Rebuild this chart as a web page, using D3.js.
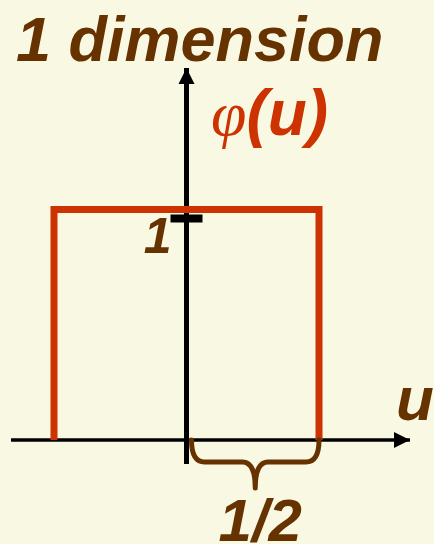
<!DOCTYPE html>
<html>
<head>
<meta charset="utf-8">
<script src="https://cdn.jsdelivr.net/npm/d3@7"></script>
<style>
  html, body { margin: 0; padding: 0; background: #f9f9e3; }
  svg { display: block; }
  text { font-family: "Liberation Sans", Arial, sans-serif; font-weight: bold; font-style: italic; }
</style>
</head>
<body>
<svg width="434" height="544"></svg>
<script>
// box function phi(u): 1 on [-1/2, 1/2], 0 elsewhere
const boxU = [-0.5, -0.5, 0.5, 0.5];
const boxPhi = [0, 1, 1, 0];
const yTicks = [1];
const yTickLabels = ["1"];
const braceSpan = [0, 0.5];
const braceLabel = "1/2";
const title = "1 dimension";

const brown = "#663300", red = "#cc3300";

const svg = d3.select("svg");

const x = d3.scaleLinear().domain([-0.5, 0.5]).range([54, 319]);
const y = d3.scaleLinear().domain([0, 1]).range([440, 209.5]);

const defs = svg.append("defs");
defs.append("marker")
    .attr("id", "arrow")
    .attr("viewBox", "0 0 10 10")
    .attr("refX", 10).attr("refY", 5)
    .attr("markerUnits", "userSpaceOnUse")
    .attr("markerWidth", 16).attr("markerHeight", 17)
    .attr("orient", "auto")
  .append("path")
    .attr("d", "M0,0L10,5L0,10Z")
    .attr("fill", "#000");

// title
svg.append("text")
    .attr("x", 16).attr("y", 61)
    .attr("fill", brown)
    .style("font-size", "63px")
    .text(title);

// x axis
svg.append("line")
    .attr("x1", 11).attr("x2", 410)
    .attr("y1", y(0)).attr("y2", y(0))
    .attr("stroke", "#000").attr("stroke-width", 3.5)
    .attr("marker-end", "url(#arrow)");

// y axis
svg.append("line")
    .attr("x1", x(0)).attr("x2", x(0))
    .attr("y1", 464).attr("y2", 68)
    .attr("stroke", "#000").attr("stroke-width", 5)
    .attr("marker-end", "url(#arrow)");

// box function
const pts = boxU.map((u, i) => [x(u), y(boxPhi[i])]);
svg.append("path")
    .attr("d", d3.line()(pts))
    .attr("fill", "none")
    .attr("stroke", red)
    .attr("stroke-width", 7)
    .attr("stroke-linejoin", "miter");

// tick at 1
svg.selectAll(".ytick")
    .data(yTicks)
    .join("line")
    .attr("class", "ytick")
    .attr("x1", x(0) - 16).attr("x2", x(0) + 16)
    .attr("y1", d => y(d) + 9).attr("y2", d => y(d) + 9)
    .attr("stroke", "#000").attr("stroke-width", 8);

svg.selectAll(".ylabel")
    .data(yTicks)
    .join("text")
    .attr("class", "ylabel")
    .attr("x", x(0) - 15).attr("y", d => y(d) + 43)
    .attr("text-anchor", "end")
    .attr("fill", brown)
    .style("font-size", "50px")
    .text((d, i) => yTickLabels[i]);

// phi(u) label
const phi = svg.append("text")
    .attr("x", 211).attr("y", 135)
    .attr("fill", red)
    .style("font-size", "64px");
phi.append("tspan")
    .style("font-family", "'Liberation Serif', 'Times New Roman', serif")
    .style("font-weight", "normal")
    .text("φ");
phi.append("tspan").text("(u)");

// u label
svg.append("text")
    .attr("x", 396).attr("y", 420)
    .attr("fill", brown)
    .style("font-size", "62px")
    .text("u");

// brace under [0, 1/2]
const bx0 = x(braceSpan[0]) + 5, bx1 = x(braceSpan[1]);
const by0 = y(0), by1 = y(0) + 22, tipY = y(0) + 48;
const mid = (bx0 + bx1) / 2;
const r = 13;
const p = d3.path();
p.moveTo(bx0, by0);
p.quadraticCurveTo(bx0, by1, bx0 + r, by1);
p.lineTo(mid - r, by1);
p.quadraticCurveTo(mid, by1, mid, tipY);
p.quadraticCurveTo(mid, by1, mid + r, by1);
p.lineTo(bx1 - r, by1);
p.quadraticCurveTo(bx1, by1, bx1, by0);
svg.append("path")
    .attr("d", p.toString())
    .attr("fill", "none")
    .attr("stroke", brown)
    .attr("stroke-width", 5)
    .attr("stroke-linecap", "round")
    .attr("stroke-linejoin", "round");

svg.append("text")
    .attr("x", mid + 5).attr("y", 541)
    .attr("text-anchor", "middle")
    .attr("fill", brown)
    .style("font-size", "60px")
    .text(braceLabel);
</script>
</body>
</html>
